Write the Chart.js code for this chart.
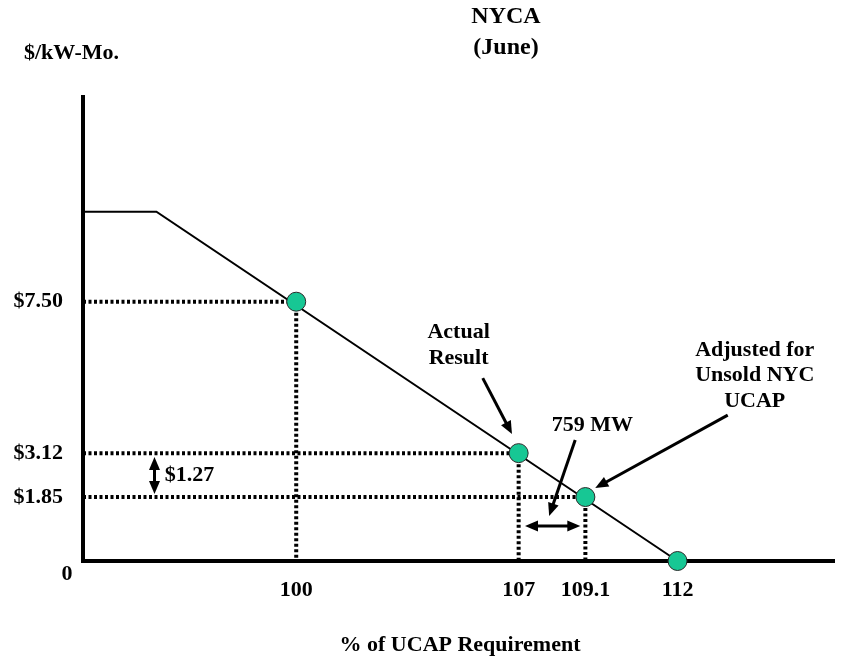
<!DOCTYPE html>
<html>
<head>
<meta charset="utf-8">
<title>NYCA (June)</title>
<script src="https://cdn.jsdelivr.net/npm/chart.js@4"></script>
<style>
  html, body { margin: 0; padding: 0; background: #fff; }
  #wrap { width: 845px; height: 658px; }
</style>
</head>
<body>
<div id="wrap"><canvas id="chart" width="845" height="658"></canvas></div>
<script>
const FONT = "'Liberation Serif', 'Times New Roman', serif";

// axis ranges (% of UCAP requirement, $/kW-Mo.)
const X_MIN = 93.29;
const X_MAX = 116.94;
const Y_MIN = 0;
const Y_MAX = 13.42;

// demand curve: price cap plateau then straight down to zero at 112%
const CURVE_X = [X_MIN, 95.6, 112];
const CURVE_Y = [10.1, 10.1, 0];

// marked points
const POINT_X = [100, 107, 109.1, 112];
const POINT_Y = [7.5, 3.12, 1.85, 0];

// tick labels
const X_TICKS = [100, 107, 109.1, 112];
const X_TICK_LABELS = ["100", "107", "109.1", "112"];
const Y_TICKS = [0, 1.85, 3.12, 7.5];
const Y_TICK_LABELS = ["", "$1.85", "$3.12", "$7.50"];

// annotation arrows, in data units: [x1, y1, x2, y2, double-headed]
const ARROWS = [
  [105.87, 5.29, 106.79, 3.67, false],
  [113.58, 4.22, 109.41, 2.11, false],
  [108.78, 3.50, 107.96, 1.30, false],
  [107.2, 1.01, 108.94, 1.01, true],
  [95.54, 3.01, 95.54, 1.94, true],
];

// annotation texts, in data units
const NOTES = [
  { text: "Actual", x: 105.11, y: 6.60, align: "center" },
  { text: "Result", x: 105.11, y: 5.87, align: "center" },
  { text: "Adjusted for", x: 114.43, y: 6.10, align: "center" },
  { text: "Unsold NYC", x: 114.43, y: 5.38, align: "center" },
  { text: "UCAP", x: 114.43, y: 4.63, align: "center" },
  { text: "759 MW", x: 109.32, y: 3.93, align: "center" },
  { text: "$1.27", x: 95.86, y: 2.485, align: "left" },
];

const curveData = CURVE_X.map((x, i) => ({ x, y: CURVE_Y[i] }));
const pointData = POINT_X.map((x, i) => ({ x, y: POINT_Y[i] }));

// dotted guides from each marked point (except the one on the axis)
const guideSets = [];
POINT_X.forEach((x, i) => {
  const y = POINT_Y[i];
  if (y === 0) return;
  guideSets.push([{ x: X_MIN, y }, { x, y }]);
  guideSets.push([{ x, y }, { x, y: 0 }]);
});

function drawArrowHead(ctx, fx, fy, tx, ty) {
  const ang = Math.atan2(ty - fy, tx - fx);
  const len = 13, half = 5.5;
  ctx.beginPath();
  ctx.moveTo(tx, ty);
  ctx.lineTo(tx - len * Math.cos(ang) + half * Math.sin(ang), ty - len * Math.sin(ang) - half * Math.cos(ang));
  ctx.lineTo(tx - len * Math.cos(ang) - half * Math.sin(ang), ty - len * Math.sin(ang) + half * Math.cos(ang));
  ctx.closePath();
  ctx.fill();
}

const annotations = {
  id: "annotations",
  afterDraw(chart) {
    const ctx = chart.ctx;
    const xs = chart.scales.x;
    const ys = chart.scales.y;
    ctx.save();
    ctx.fillStyle = "#000";
    ctx.strokeStyle = "#000";
    ctx.lineWidth = 3;
    ctx.setLineDash([]);

    for (const [x1, y1, x2, y2, both] of ARROWS) {
      const ax = xs.getPixelForValue(x1), ay = ys.getPixelForValue(y1);
      const bx = xs.getPixelForValue(x2), by = ys.getPixelForValue(y2);
      const ang = Math.atan2(by - ay, bx - ax);
      const sx = both ? ax + 10 * Math.cos(ang) : ax;
      const sy = both ? ay + 10 * Math.sin(ang) : ay;
      ctx.beginPath();
      ctx.moveTo(sx, sy);
      ctx.lineTo(bx - 10 * Math.cos(ang), by - 10 * Math.sin(ang));
      ctx.stroke();
      drawArrowHead(ctx, ax, ay, bx, by);
      if (both) drawArrowHead(ctx, bx, by, ax, ay);
    }

    ctx.font = `bold 22px ${FONT}`;
    ctx.textBaseline = "middle";
    for (const n of NOTES) {
      ctx.textAlign = n.align;
      ctx.fillText(n.text, xs.getPixelForValue(n.x), ys.getPixelForValue(n.y));
    }

    // zero label sits below-left of the origin
    ctx.textAlign = "center";
    ctx.fillText("0", 67, ys.getPixelForValue(0) + 13);

    // titles
    ctx.font = `bold 24px ${FONT}`;
    ctx.fillText("NYCA", 506, 17);
    ctx.fillText("(June)", 506, 48);
    ctx.font = `bold 22px ${FONT}`;
    ctx.textAlign = "left";
    ctx.fillText("$/kW-Mo.", 24, 53);
    ctx.textAlign = "center";
    ctx.fillText("% of UCAP Requirement", 460, 645);
    ctx.restore();
  },
};

const datasets = [
  {
    label: "points",
    data: pointData,
    showLine: false,
    pointRadius: 9.5,
    pointHoverRadius: 9.5,
    pointBackgroundColor: "#17c794",
    pointBorderColor: "#2a2a2a",
    pointBorderWidth: 1,
    clip: false,
  },
  {
    label: "curve",
    data: curveData,
    showLine: true,
    borderColor: "#000",
    borderWidth: 2,
    pointRadius: 0,
    clip: false,
  },
  ...guideSets.map((d, i) => ({
    label: "guide" + i,
    data: d,
    showLine: true,
    borderColor: "#000",
    borderWidth: 4,
    borderDash: [3, 2.5],
    borderCapStyle: "butt",
    pointRadius: 0,
    clip: false,
  })),
];

new Chart(document.getElementById("chart"), {
  type: "scatter",
  data: { datasets },
  options: {
    responsive: false,
    animation: false,
    layout: { padding: { top: 97, right: 5, left: 0, bottom: 0 } },
    plugins: { legend: { display: false }, tooltip: { enabled: false } },
    scales: {
      x: {
        type: "linear",
        min: X_MIN,
        max: X_MAX,
        afterFit: (scale) => { scale.height = 97; },
        afterBuildTicks: (scale) => { scale.ticks = X_TICKS.map((v) => ({ value: v })); },
        grid: { display: false, drawTicks: false },
        border: { display: true, color: "#000", width: 4 },
        ticks: {
          padding: 16,
          color: "#000",
          maxRotation: 0,
          autoSkip: false,
          font: { family: FONT, size: 22, weight: "bold" },
          callback: (v) => X_TICK_LABELS[X_TICKS.indexOf(v)] ?? "",
        },
      },
      y: {
        type: "linear",
        min: Y_MIN,
        max: Y_MAX,
        afterFit: (scale) => { scale.width = 83; },
        afterBuildTicks: (scale) => { scale.ticks = Y_TICKS.map((v) => ({ value: v })); },
        grid: { display: false, drawTicks: false },
        border: { display: true, color: "#000", width: 4 },
        ticks: {
          padding: 20,
          color: "#000",
          autoSkip: false,
          font: { family: FONT, size: 22, weight: "bold" },
          callback: (v) => Y_TICK_LABELS[Y_TICKS.indexOf(v)] ?? "",
        },
      },
    },
  },
  plugins: [annotations],
});
</script>
</body>
</html>
